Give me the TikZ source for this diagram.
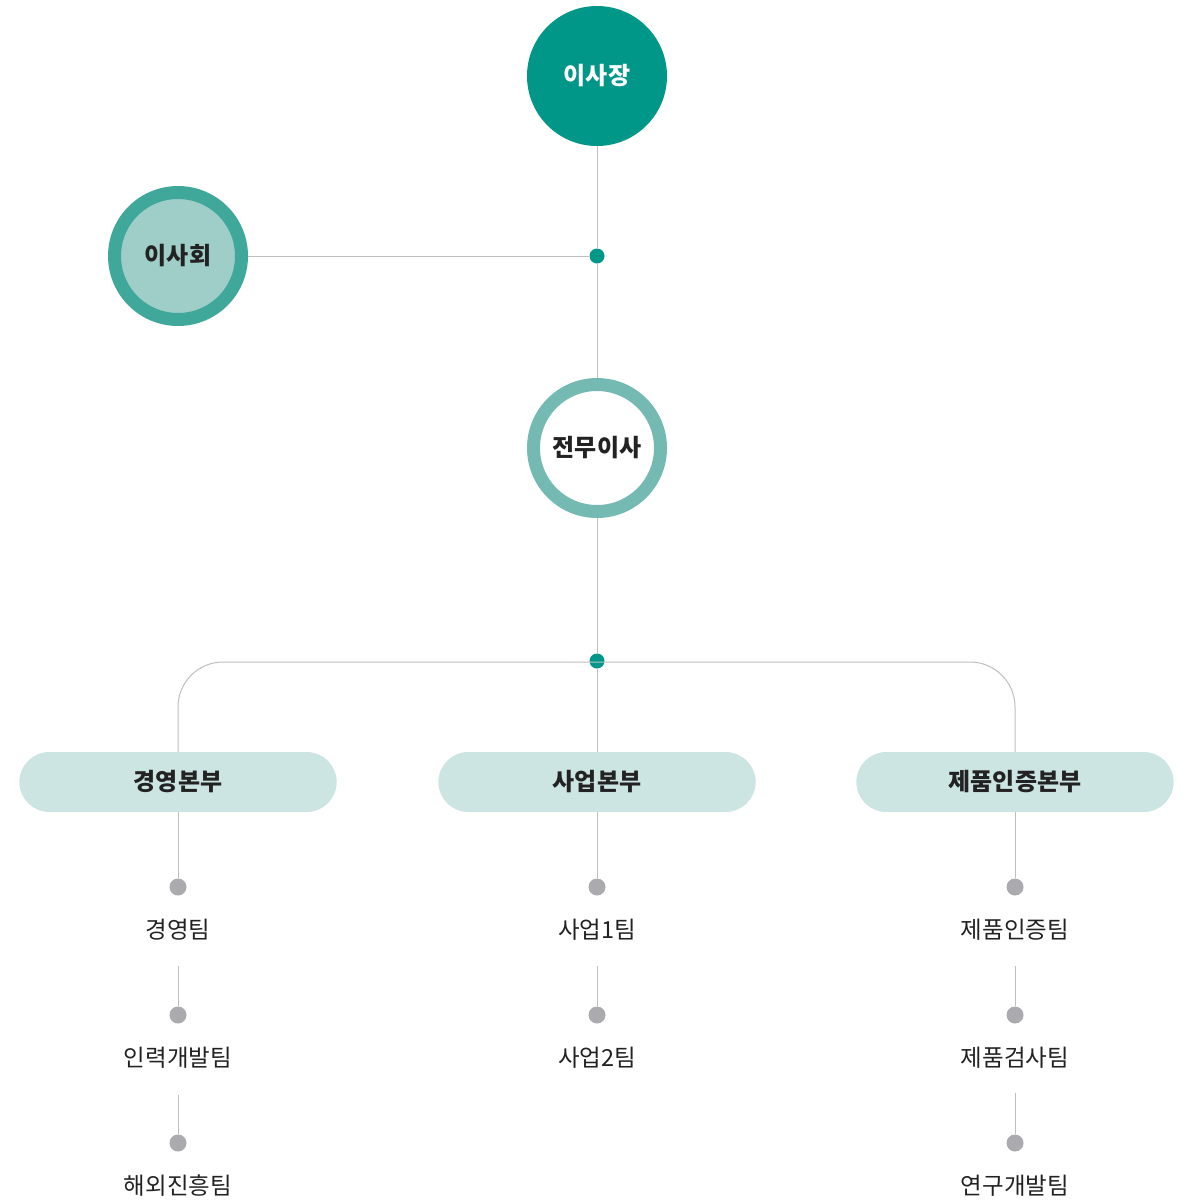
\documentclass[tikz,border=0pt]{standalone}
\usepackage{fontspec}
\usetikzlibrary{shapes.misc}
\setmainfont{Noto Sans CJK KR}
\definecolor{teal1}{RGB}{0,150,136}
\definecolor{ring1}{RGB}{64,168,155}
\definecolor{fill1}{RGB}{159,206,200}
\definecolor{ring2}{RGB}{117,186,178}
\definecolor{boxfill}{RGB}{205,229,226}
\definecolor{linegray}{RGB}{190,190,190}
\definecolor{dotgray}{RGB}{170,170,175}
\definecolor{txt}{RGB}{34,34,34}
\begin{document}
\begin{tikzpicture}[x=1pt,y=-1pt,
  conn/.style={draw=linegray,line width=1pt},
  hub/.style={circle,fill=teal1,minimum size=15pt,inner sep=0pt},
  gdot/.style={circle,fill=dotgray,minimum size=17pt,inner sep=0pt},
  dept/.style={rounded rectangle,fill=boxfill,minimum width=324pt,minimum height=60pt,font=\bfseries\fontsize{24}{27}\selectfont,text=txt},
  team/.style={font=\fontsize{23.5}{26}\selectfont,text=txt}]
\useasboundingbox (0,0) rectangle (1191,1203);
% top
\node[circle,fill=teal1,minimum size=140pt,inner sep=0pt,text=white,font=\bfseries\fontsize{24}{28}\selectfont] (ceo) at (597,76) {이사장};
\node[hub] (h1) at (597,256) {};
\node[circle,fill=fill1,draw=ring1,line width=13pt,minimum size=127pt,inner sep=0pt,text=txt,font=\bfseries\fontsize{24}{28}\selectfont] (board) at (178,256) {이사회};
\node[circle,fill=white,draw=ring2,line width=13pt,minimum size=127pt,inner sep=0pt,text=txt,font=\bfseries\fontsize{24}{28}\selectfont] (exec) at (597,448) {전무이사};
\node[hub] (h2) at (597,661) {};
\draw[conn] (ceo) -- (h1);
\draw[conn] (board) -- (h1);
\draw[conn] (h1) -- (exec);
\draw[conn] (exec) -- (h2);
% departments
\node[dept] (d1) at (178,782) {경영본부};
\node[dept] (d2) at (597,782) {사업본부};
\node[dept] (d3) at (1015,782) {제품인증본부};
\draw[conn,rounded corners=45pt] (d1.north) -- (178,662) -- (1015,662) -- (d3.north);
\draw[conn] (h2) -- (d2.north);
% teams col 1
\node[gdot] (a1) at (178,887) {};
\node[team] (ta1) at (178,930) {경영팀};
\node[gdot] (a2) at (178,1015) {};
\node[team] (ta2) at (178,1058) {인력개발팀};
\node[gdot] (a3) at (178,1143) {};
\node[team] (ta3) at (178,1186) {해외진흥팀};
\coordinate (ca1) at (178,966);
\coordinate (ca2) at (178,1095);
\draw[conn] (d1.south) -- (a1);
\draw[conn] (ca1) -- (a2);
\draw[conn] (ca2) -- (a3);
% teams col 2
\node[gdot] (b1) at (597,887) {};
\node[team] (tb1) at (597,930) {사업1팀};
\node[gdot] (b2) at (597,1015) {};
\node[team] (tb2) at (597,1058) {사업2팀};
\coordinate (cb1) at (597,966);
\draw[conn] (d2.south) -- (b1);
\draw[conn] (cb1) -- (b2);
% teams col 3
\node[gdot] (c1) at (1015,887) {};
\node[team] (tc1) at (1015,930) {제품인증팀};
\node[gdot] (c2) at (1015,1015) {};
\node[team] (tc2) at (1015,1058) {제품검사팀};
\node[gdot] (c3) at (1015,1143) {};
\node[team] (tc3) at (1015,1186) {연구개발팀};
\coordinate (cc1) at (1015,966);
\coordinate (cc2) at (1015,1093);
\draw[conn] (d3.south) -- (c1);
\draw[conn] (cc1) -- (c2);
\draw[conn] (cc2) -- (c3);
\end{tikzpicture}
\end{document}
